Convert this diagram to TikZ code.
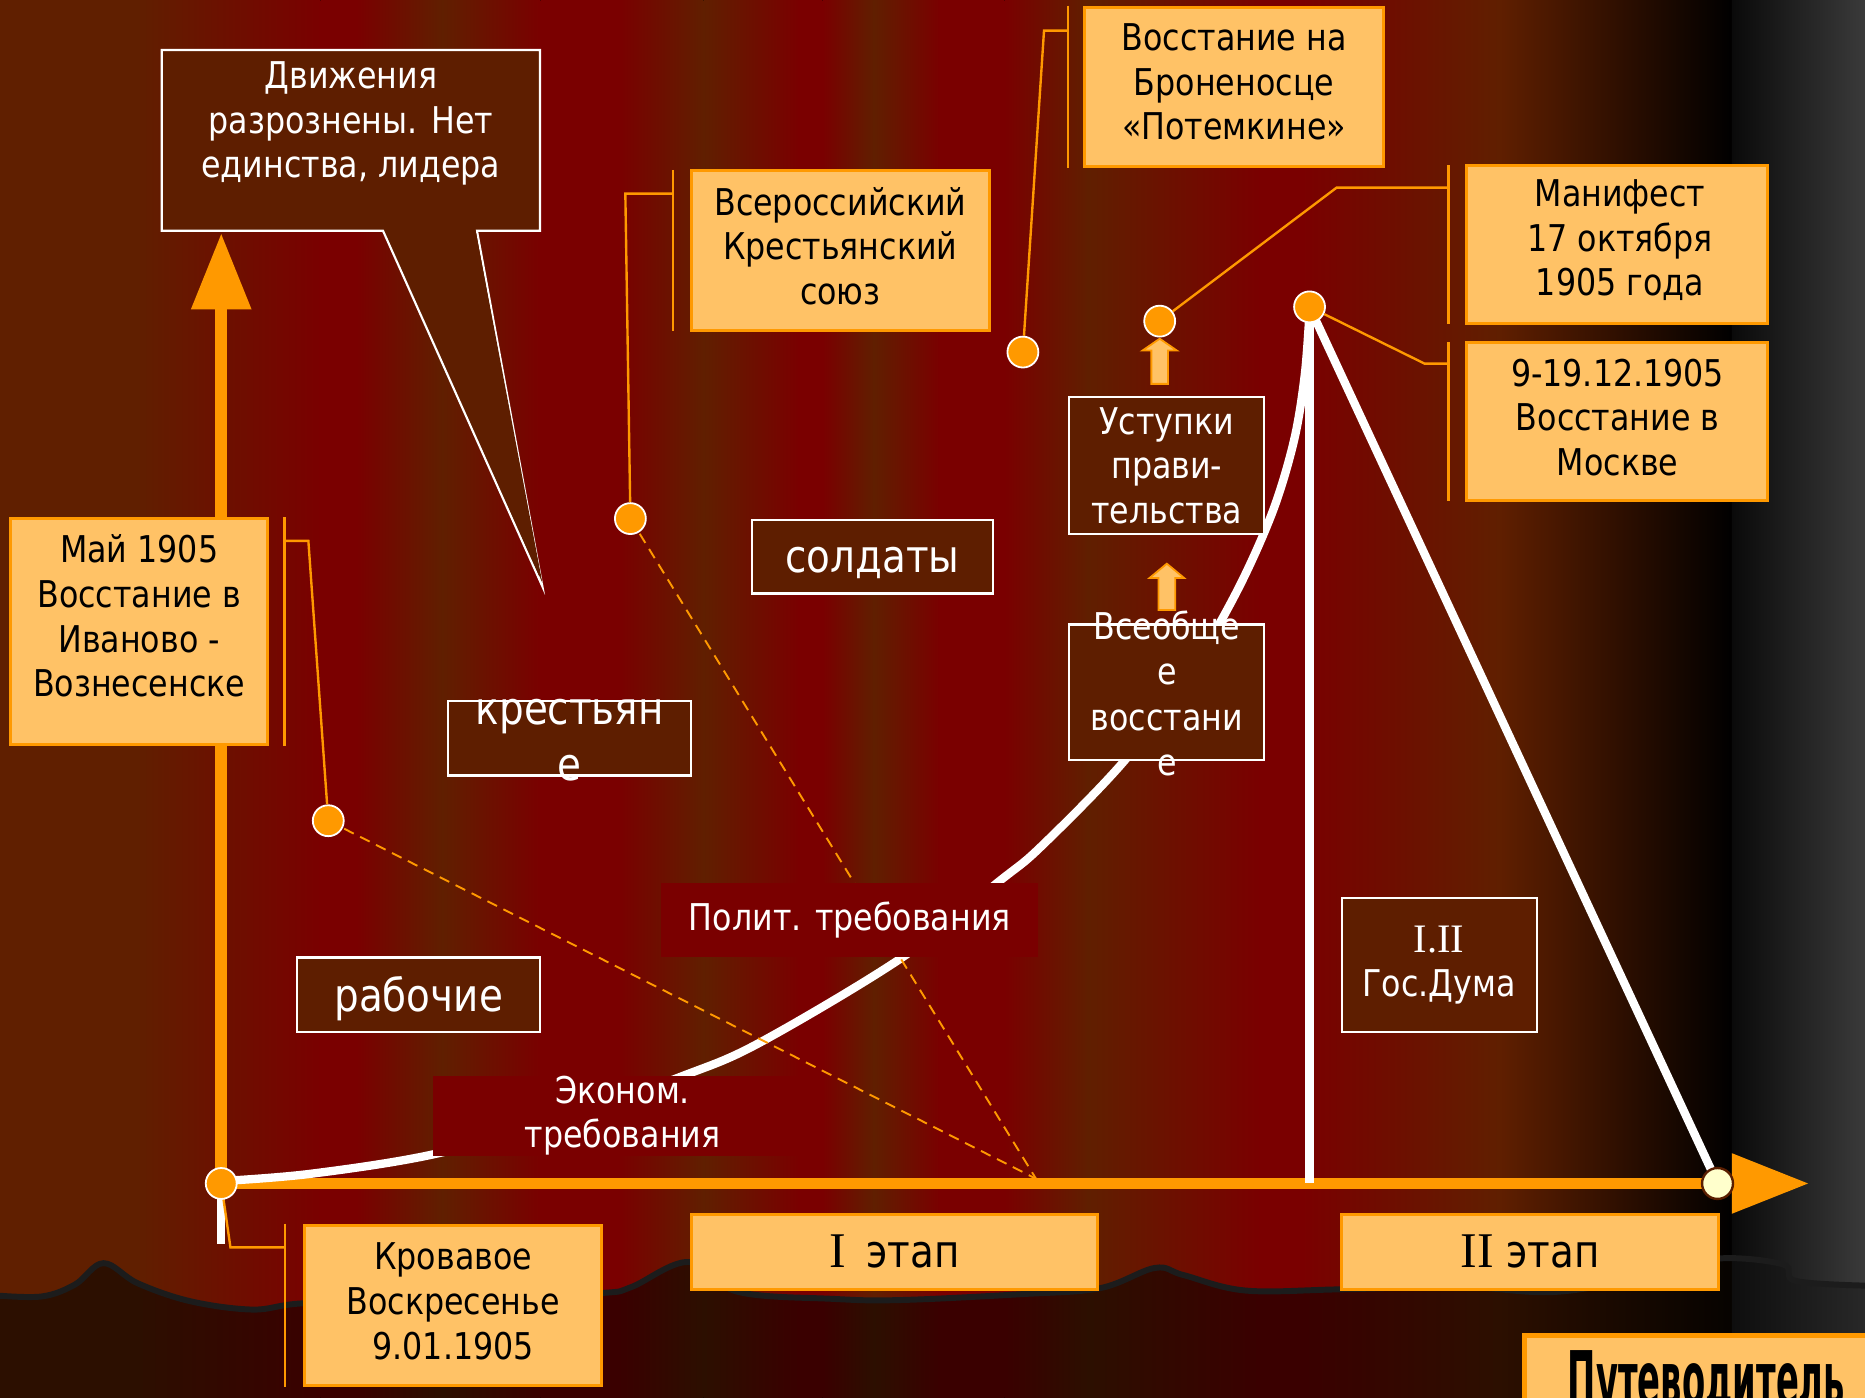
\documentclass[tikz,border=0pt]{standalone}
\usepackage{fontspec}
\usepackage{graphicx}
\setmainfont{DejaVu Sans}[FakeStretch=0.86]
\newfontfamily\serifI{Liberation Serif}
\usetikzlibrary{arrows.meta,calc}
\definecolor{bgB}{RGB}{96,31,0}
\definecolor{bgR}{RGB}{122,0,0}
\definecolor{bgK}{RGB}{0,0,0}
\definecolor{dB}{RGB}{44,15,0}
\definecolor{dR}{RGB}{58,0,0}
\definecolor{dK}{RGB}{6,3,0}
\definecolor{orng}{RGB}{255,153,0}
\definecolor{lorng}{RGB}{255,194,102}
\definecolor{boxB}{RGB}{94,30,0}
\definecolor{boxR}{RGB}{122,0,0}
\definecolor{paleY}{RGB}{255,255,204}
\definecolor{dotRim}{RGB}{90,30,0}
\definecolor{waveC}{RGB}{28,28,28}
\definecolor{gA}{RGB}{10,10,10}
\definecolor{gB}{RGB}{58,58,58}
\definecolor{gC}{RGB}{14,14,14}
\definecolor{gD}{RGB}{40,40,40}
\newcommand\calloutfont{\fontsize{31}{37.5}\selectfont}
\newcommand\bigfont{\fontsize{38}{47}\selectfont}
\begin{document}
\begin{tikzpicture}[x=1pt,y=-1pt,
  obox/.style={draw=orng, line width=2.5pt, fill=lorng, inner sep=0pt, align=center, text=black, font=\calloutfont},
  wbox/.style={draw=white, line width=1.8pt, fill=boxB, inner sep=0pt, align=center, text=white},
  rbox/.style={fill=boxR, inner sep=0pt, align=center, text=white, font=\calloutfont},
  txt/.style={inner sep=0pt, align=center},
  dot/.style={circle, fill=orng, draw=white, line width=1.5pt, minimum size=26pt, inner sep=0pt},
  enddot/.style={circle, fill=paleY, draw=dotRim, line width=2pt, minimum size=26pt, inner sep=0pt},
  leader/.style={draw=orng, line width=2pt},
  dashln/.style={draw=orng, line width=1.6pt, dash pattern=on 9pt off 6pt},
  wline/.style={draw=white, line width=7pt},
  axln/.style={draw=orng, line width=10pt},
  blockarrow/.style={fill=lorng, draw=orng, line width=1.5pt, line join=miter},
]
\useasboundingbox (0,0) rectangle (1568,1175);
\clip (0,0) rectangle (1568,1175);
% background stripes
\foreach \xa/\ca/\xb/\cb in {0/B/115/B, 115/B/270/R, 270/R/300/R, 300/R/372/B, 372/B/455/R, 455/R/520/R, 520/R/592/B, 592/B/672/R, 672/R/692/R, 692/R/735/B, 735/B/790/R, 790/R/845/R, 845/R/915/B, 915/B/1060/R, 1060/R/1095/R, 1095/R/1260/B, 1260/B/1456/K}
  \fill[left color=bg\ca, right color=bg\cb] (\xa-0.6,0) rectangle (\xb+0.6,1175);
\fill[left color=gA, right color=gB] (1456,0) rectangle (1568,1175);
% dark ground
\begin{scope}
\clip plot[smooth, tension=0.6] coordinates {(-5,1089) (35,1090) (63,1080) (87,1062) (116,1079) (160,1094) (212,1101) (251,1096) (330,1092) (420,1090) (507,1087) (531,1082) (579,1061) (620,1086) (700,1092) (757,1093) (860,1088) (925,1083) (971,1066) (995,1072) (1047,1085) (1127,1084) (1230,1082) (1310,1086) (1400,1070) (1446,1058) (1499,1063) (1510,1077) (1573,1081)} -- (1573,1180) -- (-5,1180) -- cycle;
\foreach \xa/\ca/\xb/\cb in {0/B/115/B, 115/B/270/R, 270/R/300/R, 300/R/372/B, 372/B/455/R, 455/R/520/R, 520/R/592/B, 592/B/672/R, 672/R/692/R, 692/R/735/B, 735/B/790/R, 790/R/845/R, 845/R/915/B, 915/B/1060/R, 1060/R/1095/R, 1095/R/1260/B, 1260/B/1456/K}
  \fill[left color=d\ca, right color=d\cb] (\xa-0.6,1000) rectangle (\xb+0.6,1180);
\fill[left color=gC, right color=gD] (1456,1000) rectangle (1568,1180);
\end{scope}
\draw[waveC, line width=5pt] plot[smooth, tension=0.6] coordinates {(-5,1089) (35,1090) (63,1080) (87,1062) (116,1079) (160,1094) (212,1101) (251,1096) (330,1092) (420,1090) (507,1087) (531,1082) (579,1061) (620,1086) (700,1092) (757,1093) (860,1088) (925,1083) (971,1066) (995,1072) (1047,1085) (1127,1084) (1230,1082) (1310,1086) (1400,1070) (1446,1058) (1499,1063) (1510,1077) (1573,1081)};
% key points
\coordinate (S) at (186,995);
\coordinate (ytip) at (186,196);
\coordinate (xtip) at (1521,995);
\coordinate (Sbot) at (186,1046);
\coordinate (P) at (1101,258);
\coordinate (E) at (1444,995);
\coordinate (C) at (871,991);
\coordinate (Mp) at (276,690);
\coordinate (Kp) at (530,436);
\coordinate (Pp) at (860,296);
\coordinate (Fp) at (975,270);
% axes
\draw[axln, -{Triangle[length=64pt,width=48pt]}] (S) -- (ytip);
\draw[axln, -{Triangle[length=65pt,width=48pt]}] (S) -- (xtip);
\draw[draw=white, line width=7pt] (S) -- (Sbot);
% white curve and peak lines
\draw[wline] plot[smooth, tension=0.55] coordinates {(186,993) (260,987) (362,971) (470,942) (573,905) (638,877) (757,806) (840,741) (875,712) (945,640) (1000,566) (1040,497) (1070,430) (1088,370) (1097,315) (1101,262)};
\draw[wline] (P) -- (P |- S);
\draw[wline] (P) -- (E);
% dashed lines
\draw[dashln] (Mp) -- (C);
\draw[dashln] (Kp) -- (C);
\draw[dashln] ($(Pp)+(13,8)$) -- ($(Pp)+(13,8)$ |- C);
% callout with tail
\draw[white, line width=1.8pt, fill=boxB, line join=miter] (322,194) -- (136,194) -- (136,42) -- (454,42) -- (454,194) -- (401,194) -- (456,493) -- cycle;
\fill[boxB] (323.5,192) -- (456,490) -- (399.5,192) -- cycle;
\node[txt, text=white, font=\calloutfont] (dvT) at (295,104) {Движения\\разрознены. Нет\\единства, лидера};
% white framed boxes
\node[wbox, minimum width=204pt, minimum height=63pt] (krest) at (479,620.5) {};
\node[txt, text=white, font=\fontsize{38}{47}\selectfont] (krestT) at (479,622) {крестьян\\е};
\node[wbox, minimum width=203pt, minimum height=62pt] (sold) at (733.5,468) {};
\node[txt, text=white, font=\bigfont] (soldT) at (733.5,473) {солдаты};
\node[wbox, minimum width=204pt, minimum height=63pt] (work) at (352,836.5) {};
\node[txt, text=white, font=\bigfont] (workT) at (352,840) {рабочие};
\node[wbox, minimum width=164pt, minimum height=115pt, font=\calloutfont] (ust) at (981,391.5) {Уступки\\прави-\\тельства};
\node[wbox, minimum width=164pt, minimum height=114pt] (vseob) at (981,582) {};
\node[txt, text=white, font=\fontsize{31}{38}\selectfont] (vseobT) at (981,583) {Всеобще\\е\\восстани\\е};
\node[wbox, minimum width=164pt, minimum height=113pt, font=\calloutfont] (duma) at (1210,811.5) {{\serifI\fontsize{34}{37.5}\selectfont I.II}\\Гос.Дума};
% red boxes
\node[rbox, minimum width=317pt, minimum height=63pt] (polit) at (714.5,773.5) {Полит. требования};
\node[rbox, minimum width=319pt, minimum height=64pt] (econ) at (523.5,938) {Эконом.\\требования};
% orange callout boxes
\node[obox, minimum width=251pt, minimum height=135pt] (krs) at (706.5,210.5) {};
\node[txt, font=\calloutfont] (krsT) at (706.5,207) {Всероссийский\\Крестьянский\\союз};
\node[obox, minimum width=251pt, minimum height=134pt] (pot) at (1037.5,73) {};
\node[txt, font=\calloutfont] (potT) at (1037.5,69) {Восстание на\\Броненосце\\«Потемкине»};
\node[obox, minimum width=253pt, minimum height=133pt] (man) at (1359.5,205.5) {};
\node[txt, font=\calloutfont] (manT) at (1362,202) {Манифест\\17 октября\\1905 года};
\node[obox, minimum width=253pt, minimum height=133pt] (msk) at (1359.5,354.5) {};
\node[txt, font=\calloutfont] (mskT) at (1360,351) {9-19.12.1905\\Восстание в\\Москве};
\node[obox, minimum width=216pt, minimum height=190pt] (may) at (117,531) {};
\node[txt, font=\calloutfont] (mayT) at (117,518) {Май 1905\\Восстание в\\Иваново -\\Вознесенске};
\node[obox, minimum width=250pt, minimum height=135pt] (blood) at (381,1097.5) {};
\node[txt, font=\calloutfont] (bloodT) at (381,1094) {Кровавое\\Воскресенье\\9.01.1905};
% stage boxes
\node[obox, minimum width=342pt, minimum height=63pt, font=\bigfont] (st1) at (752,1052.5) {{\serifI\fontsize{42}{47}\selectfont I}\hspace{17pt}этап};
\node[obox, minimum width=317pt, minimum height=63pt, font=\bigfont] (st2) at (1286.5,1052.5) {{\serifI\fontsize{42}{47}\selectfont II} этап};
\node[obox, line width=3.5pt, minimum width=320pt, minimum height=90pt, anchor=north west] (guide) at (1280,1121) {};
\node[txt, anchor=north west] (guideT) at (1318,1135) {\resizebox{233pt}{47pt}{\bfseries Путеводитель}};
% dots
\node[dot] (sdot) at (S) {};
\node[dot] (mdot) at (Mp) {};
\node[dot] (kdot) at (Kp) {};
\node[dot] (pdot) at (Pp) {};
\node[dot] (fdot) at (Fp) {};
\node[dot] (peak) at (P) {};
\node[enddot] (edot) at (E) {};
% accent bars and leaders
\draw[leader] ($(krs.north west)+(-14,1)$) -- ($(krs.south west)+(-14,-1)$);
\draw[leader] ($(krs.north west)+(-14,21)$) -- ++(-40,0) -- (kdot);
\draw[leader] ($(pot.north west)+(-13,0)$) -- ($(pot.south west)+(-13,0)$);
\draw[leader] ($(pot.north west)+(-13,21)$) -- ++(-20,0) -- (pdot);
\draw[leader] ($(man.north west)+(-14,1)$) -- ($(man.south west)+(-14,-1)$);
\draw[leader] ($(man.north west)+(-14,20)$) -- ++(-94,0) -- (fdot);
\draw[leader] ($(msk.north west)+(-14,1)$) -- ($(msk.south west)+(-14,-1)$);
\draw[leader] ($(msk.north west)+(-14,19)$) -- ++(-20,0) -- (peak);
\draw[leader] ($(may.north east)+(13,0)$) -- ($(may.south east)+(13,0)$);
\draw[leader] ($(may.north east)+(13,20)$) -- ++(20,0) -- (mdot);
\draw[leader] ($(blood.north west)+(-15,0)$) -- ($(blood.south west)+(-15,0)$);
\draw[leader] ($(blood.north west)+(-15,20)$) -- ++(-46,0) -- (sdot);
% small block arrows
\draw[blockarrow] (fdot.south) ++(0,1) -- ++(14.5,10) -- ++(-7.5,0) -- ++(0,28) -- ++(-14,0) -- ++(0,-28) -- ++(-7.5,0) -- cycle;
\draw[blockarrow] (ust.south) ++(0,24) -- ++(14.5,12) -- ++(-7.5,0) -- ++(0,27) -- ++(-14,0) -- ++(0,-27) -- ++(-7.5,0) -- cycle;
\end{tikzpicture}
\end{document}
